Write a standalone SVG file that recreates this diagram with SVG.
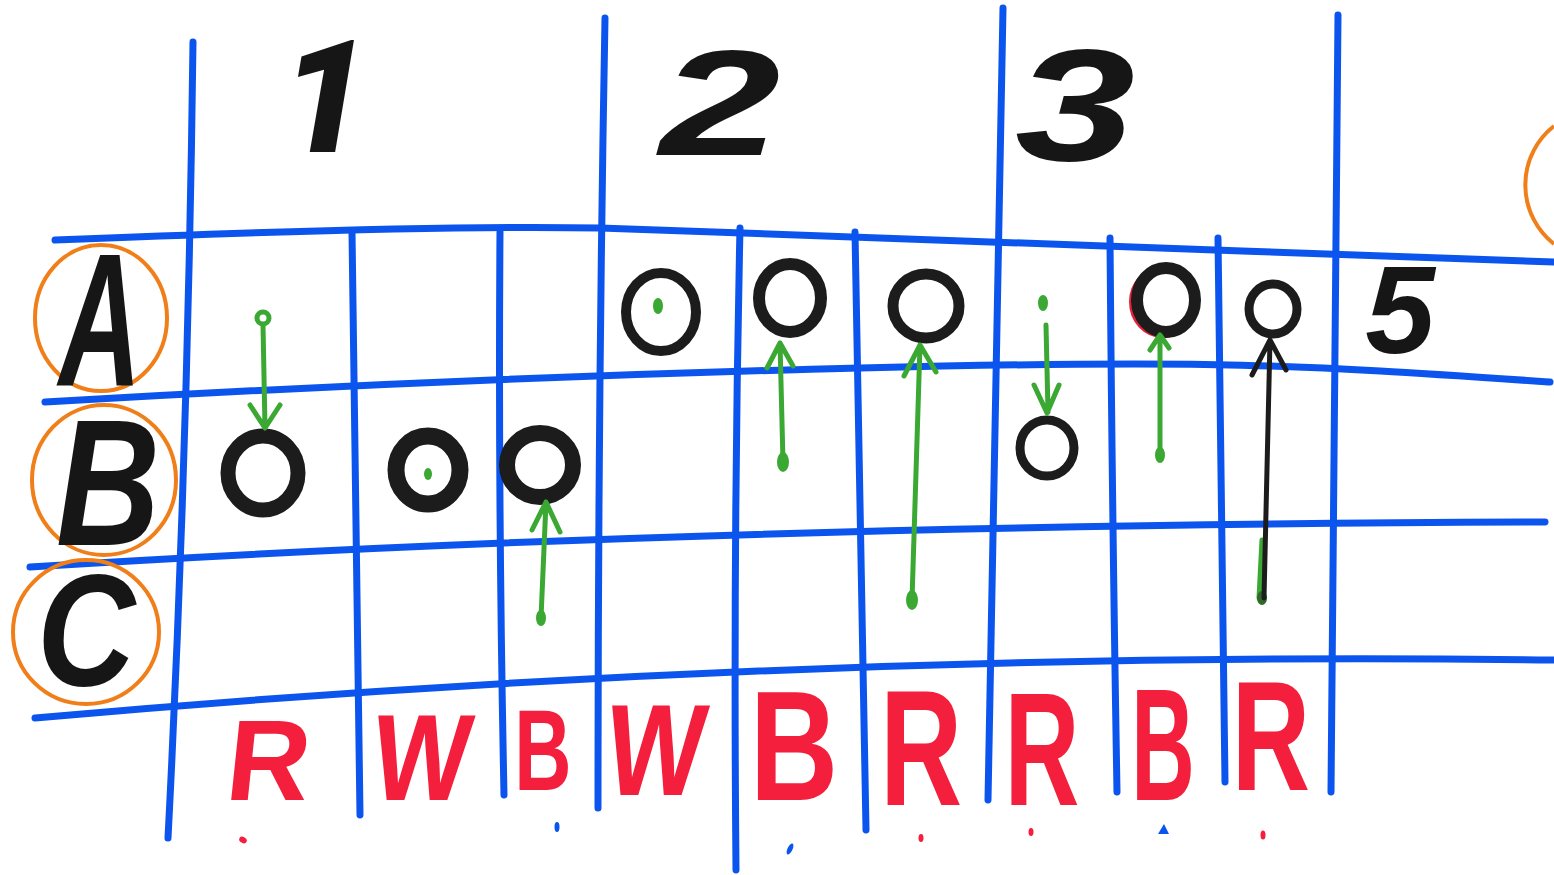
<svg xmlns="http://www.w3.org/2000/svg" width="1554" height="875" viewBox="0 0 1554 875">
<style>
.grid{stroke:#0b55ee;stroke-width:7;fill:none;stroke-linecap:round}
.ring{stroke:#f07f1a;stroke-width:4;fill:none}
.circ{stroke:#1c1c1c;stroke-width:13;fill:none}
.garrow{stroke:#3aa832;stroke-width:5;fill:none;stroke-linecap:round;stroke-linejoin:round}
.barrow{stroke:#1c1c1c;stroke-width:5;fill:none;stroke-linecap:round;stroke-linejoin:round}
.gdot{fill:#3aa832}
.blk{font-family:"Liberation Sans",Arial,sans-serif;font-weight:bold;fill:#161616;text-anchor:middle}
.red{font-family:"Liberation Sans",Arial,sans-serif;font-weight:bold;fill:#f41f3c;text-anchor:middle}
.rmark{fill:#f41f3c}
.bmark{fill:#0b55ee}
</style>
<rect width="1554" height="875" fill="#ffffff"/>
<g id="grid">
<path class="grid" d="M55,240 C300,230 500,226 600,228 S1200,250 1554,262"/>
<path class="grid" d="M45,402 C250,390 500,377 860,368 S1300,365 1550,382"/>
<path class="grid" d="M30,567 Q700,525 1545,522"/>
<path class="grid" d="M35,718 Q800,650 1554,660"/>
<path class="grid" d="M193,42 Q188,450 168,838"/>
<path class="grid" d="M352,232 Q355,520 360,815"/>
<path class="grid" d="M500,232 Q498,500 504,795"/>
<path class="grid" d="M605,18 Q598,400 598,808"/>
<path class="grid" d="M740,228 Q733,550 736,870"/>
<path class="grid" d="M855,232 Q860,550 866,830"/>
<path class="grid" d="M1003,8 Q995,400 988,800"/>
<path class="grid" d="M1110,238 Q1112,500 1117,792"/>
<path class="grid" d="M1218,238 Q1222,500 1225,782"/>
<path class="grid" d="M1338,15 Q1333,400 1331,792"/>
</g>
<g id="row-A"><ellipse class="ring" cx="101" cy="318" rx="66" ry="73"/><text class="blk" font-style="italic" font-size="190" transform="translate(100,385) scale(0.6,1)">A</text></g>
<g id="row-B"><ellipse class="ring" cx="104" cy="480" rx="72" ry="75"/><text class="blk" font-style="italic" font-size="180" transform="translate(108,545) scale(0.8,1)">B</text></g>
<g id="row-C"><ellipse class="ring" cx="86" cy="632" rx="73" ry="72"/><text class="blk" font-style="italic" font-size="160" transform="translate(86,685) scale(0.85,1)">C</text></g>
<g id="ring-right"><path class="ring" d="M1554,126 A75,75 0 0 0 1554,244"/></g>
<g id="col-1"><text class="blk" style="font-family:Roboto,'Liberation Sans',sans-serif;font-weight:900" font-style="italic" font-size="158" transform="translate(325,152)">1</text></g>
<g id="col-2"><text class="blk" font-style="italic" font-size="150" transform="translate(720,155) scale(1.45,1)">2</text></g>
<g id="col-3"><text class="blk" font-style="italic" font-size="160" transform="translate(1075,160) scale(1.35,1)">3</text></g>
<g id="label-5"><text class="blk" font-style="italic" font-size="125" transform="translate(1400,353)">5</text></g>
<g id="node-B1"><ellipse class="circ" style="stroke-width:15" cx="263" cy="473" rx="35" ry="37"/></g>
<g id="node-B2"><ellipse class="circ" style="stroke-width:17" cx="428" cy="470" rx="32" ry="34"/><ellipse class="gdot" cx="428" cy="474" rx="4" ry="6"/></g>
<g id="node-B3"><ellipse class="circ" style="stroke-width:16" cx="540" cy="465" rx="33" ry="32"/></g>
<g id="node-A4"><ellipse class="circ" style="stroke-width:10" cx="661" cy="312" rx="35" ry="39"/><ellipse class="gdot" cx="658" cy="306" rx="5" ry="8"/></g>
<g id="node-A5"><ellipse class="circ" style="stroke-width:12" cx="790" cy="298" rx="31" ry="34"/></g>
<g id="node-A6"><ellipse class="circ" style="stroke-width:11" cx="926" cy="306" rx="33" ry="32"/></g>
<g id="node-B7"><ellipse class="circ" style="stroke-width:9" cx="1047" cy="448" rx="27" ry="28"/></g>
<g id="node-A8"><ellipse cx="1163" cy="302" rx="31" ry="33" fill="none" stroke="#e8203a" stroke-width="6"/><ellipse class="circ" style="stroke-width:12" cx="1166" cy="300" rx="29" ry="32"/></g>
<g id="node-A9"><ellipse class="circ" style="stroke-width:9" cx="1273" cy="309" rx="24" ry="25"/></g>
<g id="connectors">
<circle cx="263" cy="318" r="6" fill="none" stroke="#3aa832" stroke-width="5"/>
<path class="garrow" d="M263,325 L265,428 M250,405 L265,428 L280,405"/>
<ellipse class="gdot" cx="541" cy="618" rx="5" ry="8"/>
<path class="garrow" d="M541,618 L546,502 M532,530 L546,502 L560,532"/>
<ellipse class="gdot" cx="783" cy="462" rx="6" ry="10"/>
<path class="garrow" d="M783,462 L780,343 M767,368 L780,343 L793,366"/>
<ellipse class="gdot" cx="912" cy="600" rx="6" ry="10"/>
<path class="garrow" d="M912,600 L920,345 M904,376 L920,345 L936,372"/>
<ellipse class="gdot" cx="1043" cy="303" rx="5" ry="8"/>
<path class="garrow" d="M1046,325 L1048,412 M1034,385 L1047,413 L1059,385"/>
<ellipse class="gdot" cx="1160" cy="455" rx="5" ry="8"/>
<path class="garrow" d="M1160,455 L1160,335 M1150,350 L1160,335 L1169,348"/>
<path class="garrow" d="M1259,598 L1262,540"/>
<ellipse cx="1262" cy="598" rx="5" ry="7" fill="#2d6a28"/>
<path class="barrow" d="M1264,598 L1270,340 M1252,375 L1270,340 L1286,370"/>
</g>
<g id="bottom-letters">
<text class="red" font-size="115" transform="translate(265,800) skewX(-6)">R</text>
<text class="red" font-size="123" transform="translate(417,800) scale(0.84,1) skewX(-8)">W</text>
<text class="red" font-size="115" transform="translate(543,790) scale(0.69,1)">B</text>
<text class="red" font-size="130" transform="translate(651,795) scale(0.8,1) skewX(-8)">W</text>
<text class="red" font-size="155" transform="translate(794,800) scale(0.79,1)">B</text>
<text class="red" font-size="165" transform="translate(921,805) scale(0.69,1)">R</text>
<text class="red" font-size="162" transform="translate(1042,805) scale(0.64,1)">R</text>
<text class="red" font-size="160" transform="translate(1163,800) scale(0.55,1)">B</text>
<text class="red" font-size="155" transform="translate(1271,790) scale(0.7,1)">R</text>
</g>
<g id="marks">
<ellipse class="rmark" cx="243" cy="840" rx="4" ry="3" transform="rotate(30 243 840)"/>
<ellipse class="bmark" cx="557" cy="827" rx="2.5" ry="5"/>
<ellipse class="bmark" cx="790" cy="849" rx="2.5" ry="6" transform="rotate(25 790 849)"/>
<ellipse class="rmark" cx="921" cy="838" rx="2.5" ry="4"/>
<ellipse class="rmark" cx="1031" cy="832" rx="2.5" ry="4"/>
<path class="bmark" d="M1158,834 L1164,824 L1169,834 Z"/>
<ellipse class="rmark" cx="1263" cy="835" rx="2.5" ry="4.5"/>
</g>
</svg>
